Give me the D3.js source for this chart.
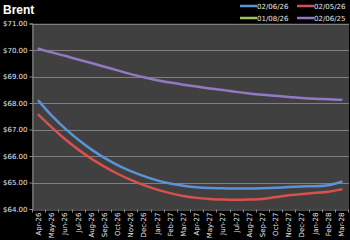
<!DOCTYPE html>
<html>
<head>
<meta charset="utf-8">
<script src="https://cdn.jsdelivr.net/npm/d3@7/dist/d3.min.js"></script>
<style>
  html, body { margin: 0; padding: 0; background: #000; }
  svg { display: block; }
</style>
</head>
<body>
<svg id="chart" width="350" height="240"></svg>
<script>
// contract months
const months = ["Apr-26","May-26","Jun-26","Jul-26","Aug-26","Sep-26","Oct-26","Nov-26",
  "Dec-26","Jan-27","Feb-27","Mar-27","Apr-27","May-27","Jun-27","Jul-27","Aug-27",
  "Sep-27","Oct-27","Nov-27","Dec-27","Jan-28","Feb-28","Mar-28"];

// curves by settlement date
const curve020626 = [68.08,67.52,67.04,66.62,66.25,65.93,65.66,65.43,65.24,65.08,64.96,64.88,
  64.82,64.79,64.78,64.77,64.77,64.78,64.80,64.83,64.85,64.86,64.90,65.03];
const curve020526 = [67.55,67.08,66.64,66.25,65.90,65.60,65.33,65.10,64.90,64.73,64.60,64.49,
  64.42,64.38,64.36,64.35,64.36,64.38,64.45,64.52,64.57,64.61,64.65,64.74];
const curve010826 = []; // not visible in range
const curve020625 = [70.05,69.91,69.78,69.64,69.51,69.37,69.23,69.09,68.97,68.86,68.77,68.69,
  68.62,68.55,68.49,68.42,68.36,68.31,68.27,68.23,68.19,68.16,68.14,68.12];

const yTicks = [64,65,66,67,68,69,70,71];

const series = [
  { name: "02/06/26", values: curve020626, color: "#5b93d8" },
  { name: "02/05/26", values: curve020526, color: "#d9504d" },
  { name: "01/08/26", values: curve010826, color: "#9bc45a" },
  { name: "02/06/25", values: curve020625, color: "#9179c4" }
];

const svg = d3.select("#chart");
const plotL = 32, plotR = 348, plotT = 23.5, plotB = 209;

const x = d3.scaleBand().domain(months).range([plotL, plotR]).padding(0);
const y = d3.scaleLinear().domain([64, 71]).range([plotB, plotT]);

// title
svg.append("text")
  .attr("x", 3).attr("y", 14)
  .attr("fill", "#fff")
  .style("font", "bold 12px 'Liberation Sans', Arial, sans-serif")
  .text("Brent");

// plot background
svg.append("rect")
  .attr("x", plotL).attr("y", plotT)
  .attr("width", plotR - plotL + 1).attr("height", plotB - plotT)
  .attr("fill", "#404040");

// gridlines
svg.append("g")
  .selectAll("line")
  .data(yTicks.slice(1))
  .enter()
  .append("line")
  .attr("x1", plotL).attr("x2", plotR + 1)
  .attr("y1", d => Math.round(y(d)) + 0.5)
  .attr("y2", d => Math.round(y(d)) + 0.5)
  .attr("stroke", "#808080").attr("stroke-width", 1);

// y axis
const yAxis = svg.append("g")
  .attr("transform", "translate(" + (plotL + 0.5) + ",0)")
  .call(d3.axisLeft(y).tickValues(yTicks).tickFormat(d => "$" + d.toFixed(2)).tickSize(3).tickPadding(2));
yAxis.select(".domain").attr("stroke", "#8a8a8a");
yAxis.selectAll(".tick line").attr("stroke", "#8a8a8a");
yAxis.selectAll("text")
  .attr("fill", "#e8e8e8")
  .style("font", "7px 'DejaVu Sans', sans-serif");

// x axis
const xAxis = svg.append("g")
  .attr("transform", "translate(0," + (plotB + 0.5) + ")")
  .call(d3.axisBottom(x).tickSize(0).tickPadding(0));
xAxis.select(".domain").attr("stroke", "#8a8a8a");
xAxis.selectAll("text")
  .attr("fill", "#e8e8e8")
  .style("font", "7px 'DejaVu Sans', sans-serif")
  .attr("text-anchor", "end")
  .attr("dy", null)
  .attr("transform", "translate(2.5,3) rotate(-90)");
// band boundary ticks
xAxis.append("g")
  .selectAll("line")
  .data(months.concat([null]))
  .enter()
  .append("line")
  .attr("x1", (d, i) => Math.round(plotL + i * x.step()) + 0.5)
  .attr("x2", (d, i) => Math.round(plotL + i * x.step()) + 0.5)
  .attr("y1", 0).attr("y2", 3)
  .attr("stroke", "#8a8a8a");

// lines
const line = d3.line()
  .x((d, i) => x(months[i]) + x.bandwidth() / 2)
  .y(d => y(d))
  .curve(d3.curveMonotoneX);

svg.append("g")
  .selectAll("path")
  .data(series.filter(s => s.values.length))
  .enter()
  .append("path")
  .attr("d", d => line(d.values))
  .attr("fill", "none")
  .attr("stroke", d => d.color)
  .attr("stroke-width", 2.5)
  .attr("stroke-linecap", "round");

// legend
const legX = [240, 297], legY = [6, 18];
const leg = svg.append("g")
  .selectAll("g")
  .data(series)
  .enter()
  .append("g")
  .attr("transform", (d, i) => "translate(" + legX[i % 2] + "," + legY[Math.floor(i / 2)] + ")");
leg.append("line")
  .attr("x1", 0).attr("x2", 17)
  .attr("y1", 0).attr("y2", 0)
  .attr("stroke", d => d.color).attr("stroke-width", 2.5);
leg.append("text")
  .attr("x", 17).attr("y", 2.5)
  .attr("fill", "#e8e8e8")
  .style("font", "7px 'DejaVu Sans', sans-serif")
  .text(d => d.name);
</script>
</body>
</html>
